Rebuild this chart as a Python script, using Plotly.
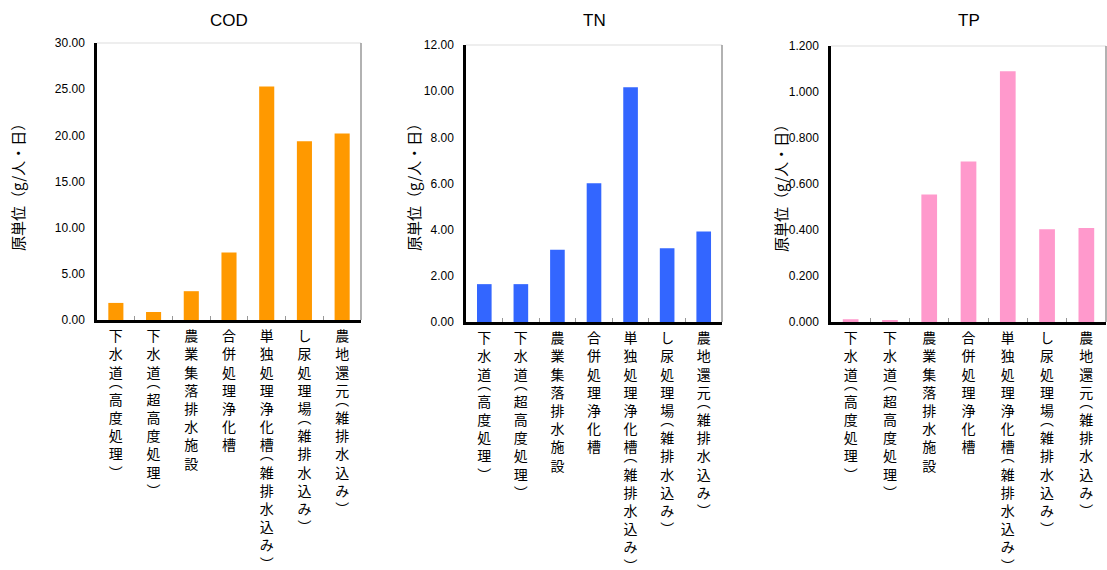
import plotly.graph_objects as go

# Facility types (shared x categories)
categories = [
    "下水道(高度処理)",
    "下水道(超高度処理)",
    "農業集落排水施設",
    "合併処理浄化槽",
    "単独処理浄化槽(雑排水込み)",
    "し尿処理場(雑排水込み)",
    "農地還元(雑排水込み)",
]

# Per-capita loads, g/person/day
cod_values = [1.85, 0.87, 3.12, 7.30, 25.28, 19.36, 20.20]
tn_values = [1.64, 1.64, 3.13, 6.01, 10.17, 3.19, 3.92]
tp_values = [0.012, 0.006, 0.554, 0.698, 1.090, 0.403, 0.409]

panel_titles = ["COD", "TN", "TP"]
y_title = "原単位（g/人・日）"

W, H = 1107, 570
JP_FONT = "Noto Sans CJK JP"
NUM_FONT = "Liberation Sans, Arial, sans-serif"

BIG = 14  # glyph size of the stacked label characters


def vertical_label(text):
    """Stack characters top-to-bottom; parentheses take a half step."""
    lines = []
    for i, ch in enumerate(text):
        if ch == "(":
            lines.append(f"<span style='font-size:{BIG}px'>︵</span>")
        elif ch == ")":
            lines.append("")
            lines.append(f"<span style='font-size:{BIG}px'>︶</span>")
        else:
            if i > 0:
                lines.append("")
            lines.append(f"<span style='font-size:{BIG}px'>{ch}</span>")
    return "<br>".join(lines)


tick_text = [vertical_label(c) for c in categories]

panels = [
    dict(values=cod_values, color="#FF9900", dtick=5, rng=30, fmt=".2f",
         x=(97, 361), y=(43, 320), ytitle_x=17),
    dict(values=tn_values, color="#3366FF", dtick=2, rng=12, fmt=".2f",
         x=(466, 722), y=(45, 322), ytitle_x=413),
    dict(values=tp_values, color="#FF99CC", dtick=0.2, rng=1.2, fmt=".3f",
         x=(831, 1106), y=(46, 322), ytitle_x=780),
]

fig = go.Figure()
annotations = []
shapes = []

for i, p in enumerate(panels, start=1):
    xa = "x" if i == 1 else f"x{i}"
    ya = "y" if i == 1 else f"y{i}"
    fig.add_trace(go.Bar(
        x=categories, y=p["values"], xaxis=xa, yaxis=ya,
        marker=dict(color=p["color"], line=dict(width=0)),
        width=0.4, showlegend=False,
    ))
    x0, x1 = p["x"][0] / W, p["x"][1] / W
    y0, y1 = 1 - p["y"][1] / H, 1 - p["y"][0] / H
    key = "" if i == 1 else str(i)
    fig.layout[f"xaxis{key}"] = dict(
        domain=[x0, x1], anchor=ya, type="category", automargin=False,
        tickvals=categories, ticktext=tick_text,
        tickangle=0, tickfont=dict(family=JP_FONT, size=7, color="black"),
        ticks="inside", tickson="boundaries", ticklen=4, tickcolor="#999999",
        ticklabelstandoff=10,
        showline=True, linecolor="black", linewidth=2.5,
        showgrid=False, zeroline=False, fixedrange=True,
        range=[-0.5, len(categories) - 0.5],
    )
    fig.layout[f"yaxis{key}"] = dict(
        domain=[y0, y1], anchor=xa, range=[0, p["rng"]], dtick=p["dtick"],
        automargin=False,
        tick0=0, tickformat=p["fmt"], ticks="", ticklabelstandoff=7,
        tickfont=dict(family=NUM_FONT, size=12, color="black"),
        showline=True, linecolor="black", linewidth=2.5,
        showgrid=False, zeroline=False, fixedrange=True,
    )
    # light frame on top and right edges of the plot area
    shapes.append(dict(type="line", xref=f"{xa} domain", yref=f"{ya} domain",
                       x0=0, x1=1, y0=1, y1=1,
                       line=dict(color="#DDDDDD", width=1)))
    shapes.append(dict(type="line", xref=f"{xa} domain", yref=f"{ya} domain",
                       x0=1, x1=1, y0=0, y1=1,
                       line=dict(color="#999999", width=1.5)))
    # panel title
    annotations.append(dict(
        text=panel_titles[i - 1], xref=f"{xa} domain", yref="paper",
        x=0.5, y=1 - 20 / H, xanchor="center", yanchor="middle",
        showarrow=False, font=dict(family=NUM_FONT, size=17, color="black"),
    ))
    # y-axis title
    annotations.append(dict(
        text=y_title, xref="paper", yref="paper",
        x=p["ytitle_x"] / W, y=1 - 184 / H, xanchor="center", yanchor="middle",
        textangle=-90, showarrow=False,
        font=dict(family=JP_FONT, size=15, color="black"),
    ))

fig.update_layout(
    width=W, height=H,
    margin=dict(l=0, r=0, t=0, b=0),
    paper_bgcolor="white", plot_bgcolor="white",
    annotations=annotations, shapes=shapes,
    bargap=0.6,
)

fig.write_html("out.html")
